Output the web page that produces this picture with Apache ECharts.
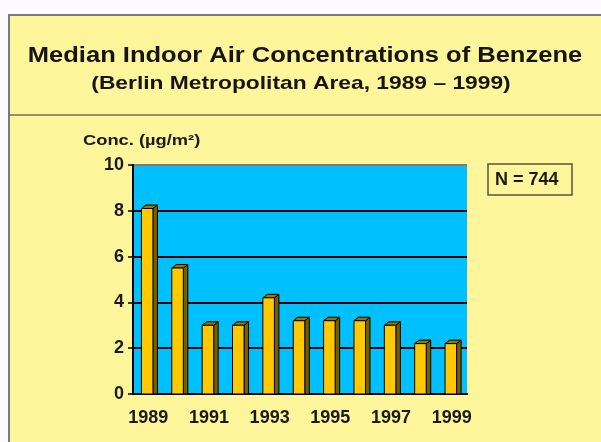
<!DOCTYPE html>
<html>
<head>
<meta charset="utf-8">
<script src="https://cdn.jsdelivr.net/npm/echarts@6/dist/echarts.min.js"></script>
<style>
    html, body { margin: 0; padding: 0; background: #FDFAFF; }
    #chart { width: 601px; height: 442px; }
</style>
</head>
<body>
<div id="chart"></div>
<script>
    var years = ['1989', '1990', '1991', '1992', '1993', '1994', '1995', '1996', '1997', '1998', '1999'];
    var benzene = [8.1, 5.5, 3.0, 3.0, 4.2, 3.2, 3.2, 3.2, 3.0, 2.2, 2.2];
    var yTicks = [0, 2, 4, 6, 8, 10];

    var myChart = echarts.init(document.getElementById('chart'));
    var font = 'Liberation Sans, Arial, sans-serif';

    // 3D-looking bar: face + dark side + cap
    function renderBar(params, api) {
        var idx = api.value(0);
        var val = api.value(1);
        var top = api.coord([idx, val]);
        var base = api.coord([idx, 0]);
        var w = api.size([1, 0])[0] * 0.38;
        var x0 = top[0] - w / 2 - 1;
        var dx = 4.5, dy = 3.5;
        return {
            type: 'group',
            children: [{
                type: 'polygon',
                shape: { points: [[x0 + w, top[1]], [x0 + w + dx, top[1] - dy], [x0 + w + dx, base[1]], [x0 + w, base[1]]] },
                style: { fill: '#755F00', stroke: '#000', lineWidth: 1 }
            }, {
                type: 'polygon',
                shape: { points: [[x0, top[1]], [x0 + dx, top[1] - dy], [x0 + w + dx, top[1] - dy], [x0 + w, top[1]]] },
                style: { fill: '#957800', stroke: '#000', lineWidth: 1 }
            }, {
                type: 'rect',
                shape: { x: x0, y: top[1], width: w, height: base[1] - top[1] },
                style: { fill: '#FFC800', stroke: '#000', lineWidth: 1 }
            }]
        };
    }

    myChart.setOption({
        backgroundColor: '#FDFAFF',
        animation: false,
        graphic: [{
            type: 'rect', z: -10,
            shape: { x: 9, y: 15, width: 620, height: 460 },
            style: { fill: '#FFF59A', stroke: '#7A7A7A', lineWidth: 2 }
        }, {
            type: 'line', z: -9,
            shape: { x1: 9, y1: 115, x2: 601, y2: 115 },
            style: { stroke: '#6E6E60', lineWidth: 1.5 }
        }, {
            type: 'text', x: 305, y: 56, scaleX: 1.16,
            style: {
                text: 'Median Indoor Air Concentrations of Benzene',
                font: 'bold 22px ' + font, fill: '#151515',
                textAlign: 'center', textVerticalAlign: 'middle'
            }
        }, {
            type: 'text', x: 301, y: 84, scaleX: 1.2,
            style: {
                text: '(Berlin Metropolitan Area, 1989 – 1999)',
                font: 'bold 19px ' + font, fill: '#151515',
                textAlign: 'center', textVerticalAlign: 'middle'
            }
        }, {
            type: 'text', x: 83, y: 141, scaleX: 1.22,
            style: {
                text: 'Conc. (µg/m²)', font: 'bold 15px ' + font, fill: '#1a1a1a',
                textAlign: 'left', textVerticalAlign: 'middle'
            }
        }, {
            type: 'rect',
            shape: { x: 488, y: 164, width: 84, height: 31 },
            style: { fill: 'transparent', stroke: '#55553f', lineWidth: 1.5 }
        }, {
            type: 'text', x: 495, y: 180,
            style: {
                text: 'N = 744', font: 'bold 18px ' + font, fill: '#1a1a1a',
                textAlign: 'left', textVerticalAlign: 'middle'
            }
        }],
        grid: {
            left: 133, right: 134, top: 165, bottom: 48,
            show: true, backgroundColor: '#00C0FF', borderWidth: 0
        },
        xAxis: {
            type: 'category',
            data: years,
            boundaryGap: true,
            axisLine: { lineStyle: { color: '#000', width: 2 } },
            axisTick: { interval: 0, length: 6, lineStyle: { color: '#000', width: 1.5 } },
            axisLabel: {
                interval: 1, margin: 15,
                fontFamily: font, fontWeight: 'bold', fontSize: 18, color: '#1a1a1a'
            }
        },
        yAxis: {
            type: 'value',
            min: yTicks[0], max: yTicks[yTicks.length - 1], interval: 2,
            axisLine: { show: true, lineStyle: { color: '#000', width: 2 } },
            axisTick: { show: true, length: 5, lineStyle: { color: '#000', width: 1.5 } },
            axisLabel: {
                margin: 9,
                fontFamily: font, fontWeight: 'bold', fontSize: 18, color: '#1a1a1a'
            },
            splitLine: {
                lineStyle: { color: ['#000', '#000', '#000', '#000', '#000', '#7A7A7A'], width: 2 }
            }
        },
        series: [{
            type: 'custom',
            renderItem: renderBar,
            encode: { x: 0, y: 1 },
            data: benzene.map(function (v, i) { return [i, v]; })
        }]
    });
</script>
</body>
</html>
